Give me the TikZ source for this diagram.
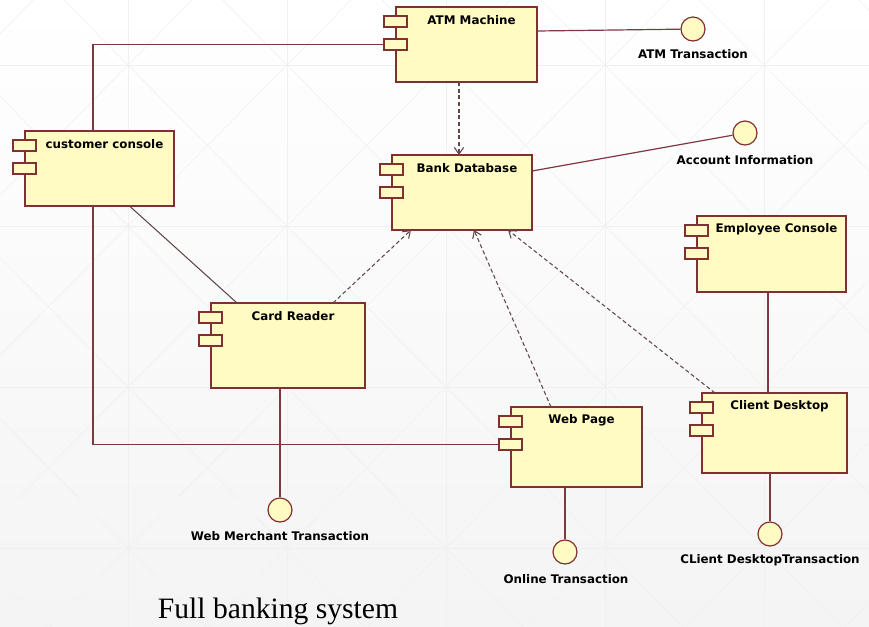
\documentclass[tikz,border=0pt]{standalone}
\usepackage{fontspec}
\setmainfont{Liberation Serif}
\newfontfamily\labelfont{DejaVu Sans}
\usetikzlibrary{arrows.meta,calc}

\definecolor{compfill}{RGB}{255,251,194}
\definecolor{compline}{RGB}{128,48,48}
\definecolor{wirecol}{RGB}{128,56,64}
\definecolor{depcol}{RGB}{96,72,72}
\definecolor{gridcol}{RGB}{240,240,240}
\definecolor{bgbottom}{RGB}{244,244,244}

\tikzset{
  compbox/.style={draw=compline, fill=compfill, line width=0.9pt, inner sep=0pt, outer sep=0pt},
  portbox/.style={draw=compline, fill=compfill, line width=0.9pt},
  ctitle/.style={font=\labelfont\bfseries\fontsize{8.9}{10}\selectfont, inner sep=0pt},
  ilabel/.style={font=\labelfont\bfseries\fontsize{8.9}{10}\selectfont, inner sep=0pt},
  iface/.style={circle, draw=compline, fill=compfill, line width=0.9pt, minimum size=24*0.75pt, inner sep=0pt},
  wire/.style={draw=wirecol, line width=0.9pt},
  depwire/.style={draw=depcol, line width=0.8pt, dash pattern=on 3pt off 2pt,
    -{Straight Barb[length=5pt,width=7pt]}},
  gridline/.style={draw=gridcol, line width=0.4pt},
}

% UML component: name, centre x, centre y, width, height, title
\newcommand\umlcomp[6]{%
  \node[compbox, minimum width=#4*0.75pt, minimum height=#5*0.75pt] (#1) at (#2,#3) {};
  \draw[portbox] ($(#1.north west)+(-12,9)$) rectangle ++(23,11);
  \draw[portbox] ($(#1.north west)+(-12,32)$) rectangle ++(23,11);
  \coordinate (#1-p2) at ($(#1.north west)+(-12,37.5)$);
  \node[ctitle] (#1-t) at ($(#1.north)+(5,13)$) {#6};
}

\begin{document}
\begin{tikzpicture}[x=0.75pt, y=-0.75pt]
  % page background
  \useasboundingbox (0,0) rectangle (869,626);
  \fill[top color=white, bottom color=bgbottom] (0,0) rectangle (869,626);
  \begin{scope}
    \clip (0,0) rectangle (869,626);
    \foreach \i in {-1,...,5} {
      \draw[gridline] ({128+159*\i},-100) -- ({128+159*\i},730);
    }
    \foreach \j in {-1,...,4} {
      \draw[gridline] (-40,{65+161*\j}) -- (900,{65+161*\j});
    }
    \foreach \i in {-1,...,5} {
      \foreach \j in {-1,...,3} {
        \draw[gridline] ({128+159*\i},{65+161*\j}) -- ({287+159*\i},{226+161*\j});
        \draw[gridline] ({287+159*\i},{65+161*\j}) -- ({128+159*\i},{226+161*\j});
      }
    }
  \end{scope}

  % components
  \umlcomp{atm}{466.5}{44.5}{141}{75}{ATM Machine}
  \umlcomp{cc}{99.5}{168.5}{149}{75}{customer console}
  \umlcomp{db}{462}{192.5}{140}{75}{Bank Database}
  \umlcomp{cr}{288}{345.5}{154}{85}{Card Reader}
  \umlcomp{ec}{771.5}{254}{149}{76}{Employee Console}
  \umlcomp{cd}{774.5}{433}{145}{80}{Client Desktop}
  \umlcomp{wp}{576.5}{447}{131}{80}{Web Page}

  % provided interfaces
  \node[iface] (atmT) at (693,29) {};
  \node[ilabel] (atmT-l) at (693,54) {ATM Transaction};
  \node[iface] (acc) at (745,133) {};
  \node[ilabel] (acc-l) at (745,160) {Account Information};
  \node[iface] (wmT) at (280,510) {};
  \node[ilabel] (wmT-l) at (280,536) {Web Merchant Transaction};
  \node[iface] (onT) at (565,552) {};
  \node[ilabel] (onT-l) at (566,579) {Online Transaction};
  \node[iface] (cdT) at (770,534) {};
  \node[ilabel] (cdT-l) at (770,560) {CLient DesktopTransaction};

  % solid connectors
  \draw[wire] ($(atm.north east)+(0,24)$) -- (atmT);
  \draw[wire] ($(db.north east)+(0,16)$) -- (acc);
  \draw[wire] ($(cc.north)+(-6.5,0)$) |- (atm-p2);
  \draw[wire] ($(cc.south)+(-6.5,0)$) |- (wp-p2);
  \draw[draw=depcol, line width=0.8pt] ($(cc.south)+(30,0)$) -- ($(cr.north west)+(26,0)$);
  \draw[wire] ($(cr.south)+(-8,0)$) -- (wmT);
  \draw[wire] ($(wp.south)+(-11.5,0)$) -- (onT);
  \draw[wire] ($(ec.south)+(-3.5,0)$) -- ($(cd.north)+(-6.5,0)$);
  \draw[wire] ($(cd.south)+(-4.5,0)$) -- (cdT);

  % dependencies on the bank database
  \draw[depwire] ($(atm.south)+(-7.5,0)$) -- ($(db.north)+(-3,0)$);
  \draw[depwire] ($(cr.north)+(45,0)$) -- ($(db.south)+(-51,0)$);
  \draw[depwire] ($(wp.north)+(-25.5,0)$) -- ($(db.south)+(12,0)$);
  \draw[depwire] ($(cd.north west)+(13,0)$) -- ($(db.south)+(46,0)$);

  % caption
  \node[font=\fontsize{22.2}{26}\selectfont, anchor=base, inner sep=0pt] (caption) at (278,618) {Full banking system};
\end{tikzpicture}
\end{document}
